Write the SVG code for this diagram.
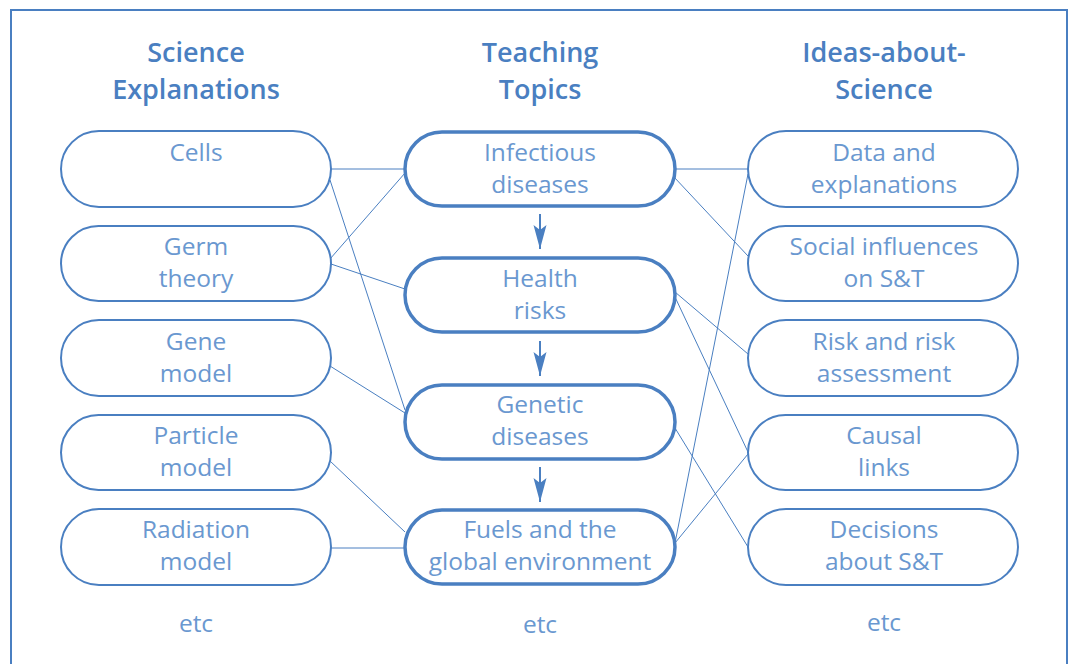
<svg xmlns="http://www.w3.org/2000/svg" width="1068" height="664" viewBox="0 0 1068 664">
<style>
.frame{fill:none;stroke:#4a7fc1;stroke-width:2}
.hdr{font-family:"Open Sans","Liberation Sans",sans-serif;font-weight:600;font-size:27px;fill:#4a7fc1;text-anchor:middle}
.nt{font-family:"Open Sans","Liberation Sans",sans-serif;font-size:24.5px;fill:#6a98d0;text-anchor:middle}
.side{fill:#fff;stroke:#4a7fc1;stroke-width:2}
.mid{fill:#fff;stroke:#4a7fc1;stroke-width:3.5}
.con{stroke:#4a7fc1;stroke-width:1;fill:none}
.arr{stroke:#4a7fc1;stroke-width:2;fill:none}
</style>
<defs>
<marker id="ah" markerUnits="userSpaceOnUse" markerWidth="24" markerHeight="14" refX="24" refY="7" orient="auto" viewBox="0 0 24 14">
<path d="M0,0.5 L24,7 L0,13.5 L5,7 Z" fill="#4a7fc1"/>
</marker>
</defs>
<rect class="frame" x="11" y="10" width="1056" height="700"/>
<g id="headers">
<text class="hdr" x="196" y="62">Science</text>
<text class="hdr" x="196" y="99">Explanations</text>
<text class="hdr" x="540" y="62">Teaching</text>
<text class="hdr" x="540" y="99">Topics</text>
<text class="hdr" x="884" y="62">Ideas-about-</text>
<text class="hdr" x="884" y="99">Science</text>
</g>
<g id="connectors">
<line class="con" x1="331" y1="169" x2="405" y2="169"/>
<line class="con" x1="330" y1="180" x2="405" y2="410"/>
<line class="con" x1="330" y1="259" x2="405" y2="173"/>
<line class="con" x1="331" y1="264" x2="405" y2="289"/>
<line class="con" x1="330" y1="366" x2="405" y2="413"/>
<line class="con" x1="330" y1="461" x2="405" y2="532"/>
<line class="con" x1="331" y1="548" x2="405" y2="548"/>
<line class="con" x1="675" y1="169" x2="748" y2="169"/>
<line class="con" x1="674" y1="177" x2="748" y2="256"/>
<line class="con" x1="675" y1="292" x2="748" y2="354"/>
<line class="con" x1="675" y1="297" x2="748" y2="452"/>
<line class="con" x1="748" y1="174" x2="675" y2="543"/>
<line class="con" x1="675" y1="428" x2="748" y2="547"/>
<line class="con" x1="675" y1="543" x2="748" y2="454"/>
<line class="arr" x1="540" y1="214" x2="540" y2="249" marker-end="url(#ah)"/>
<line class="arr" x1="540" y1="341" x2="540" y2="376" marker-end="url(#ah)"/>
<line class="arr" x1="540" y1="467" x2="540" y2="502" marker-end="url(#ah)"/>
</g>
<g id="cells"><rect class="side" x="61" y="131" width="270" height="76" rx="38"/><text class="nt" x="196" y="161">Cells</text></g>
<g id="germ"><rect class="side" x="61" y="226" width="270" height="75" rx="37.5"/><text class="nt" x="196" y="255">Germ</text><text class="nt" x="196" y="287">theory</text></g>
<g id="gene"><rect class="side" x="61" y="320" width="270" height="76" rx="38"/><text class="nt" x="196" y="350">Gene</text><text class="nt" x="196" y="382">model</text></g>
<g id="particle"><rect class="side" x="61" y="415" width="270" height="75" rx="37.5"/><text class="nt" x="196" y="444">Particle</text><text class="nt" x="196" y="476">model</text></g>
<g id="radiation"><rect class="side" x="61" y="509" width="270" height="76" rx="38"/><text class="nt" x="196" y="538">Radiation</text><text class="nt" x="196" y="570">model</text></g>
<g id="infectious"><rect class="mid" x="405" y="132" width="270" height="74" rx="37"/><text class="nt" x="540" y="161">Infectious</text><text class="nt" x="540" y="193">diseases</text></g>
<g id="health"><rect class="mid" x="405" y="258" width="270" height="74" rx="37"/><text class="nt" x="540" y="287">Health</text><text class="nt" x="540" y="319">risks</text></g>
<g id="genetic"><rect class="mid" x="405" y="385" width="270" height="74" rx="37"/><text class="nt" x="540" y="413">Genetic</text><text class="nt" x="540" y="445">diseases</text></g>
<g id="fuels"><rect class="mid" x="405" y="510" width="270" height="74" rx="37"/><text class="nt" x="540" y="538">Fuels and the</text><text class="nt" x="540" y="570">global environment</text></g>
<g id="data"><rect class="side" x="748" y="131" width="270" height="76" rx="38"/><text class="nt" x="884" y="161">Data and</text><text class="nt" x="884" y="193">explanations</text></g>
<g id="social"><rect class="side" x="748" y="226" width="270" height="75" rx="37.5"/><text class="nt" x="884" y="255">Social influences</text><text class="nt" x="884" y="287">on S&amp;T</text></g>
<g id="risk"><rect class="side" x="748" y="320" width="270" height="76" rx="38"/><text class="nt" x="884" y="350">Risk and risk</text><text class="nt" x="884" y="382">assessment</text></g>
<g id="causal"><rect class="side" x="748" y="415" width="270" height="75" rx="37.5"/><text class="nt" x="884" y="444">Causal</text><text class="nt" x="884" y="476">links</text></g>
<g id="decisions"><rect class="side" x="748" y="509" width="270" height="76" rx="38"/><text class="nt" x="884" y="538">Decisions</text><text class="nt" x="884" y="570">about S&amp;T</text></g>
<g id="etc">
<text class="nt" x="196" y="632">etc</text>
<text class="nt" x="540" y="633">etc</text>
<text class="nt" x="884" y="631">etc</text>
</g>
</svg>
